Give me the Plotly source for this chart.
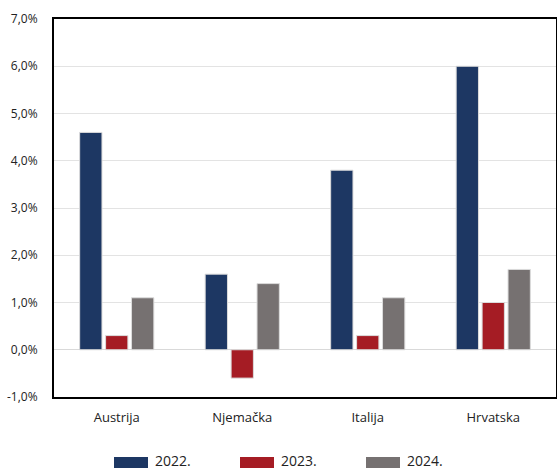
import plotly.graph_objects as go

categories = ["Austrija", "Njemačka", "Italija", "Hrvatska"]
series_names = ["2022.", "2023.", "2024."]
v2022 = [4.6, 1.6, 3.8, 6.0]
v2023 = [0.3, -0.6, 0.3, 1.0]
v2024 = [1.1, 1.4, 1.1, 1.7]
tick_vals = [-1, 0, 1, 2, 3, 4, 5, 6, 7]
tick_text = ["-1,0%", "0,0%", "1,0%", "2,0%", "3,0%", "4,0%", "5,0%", "6,0%", "7,0%"]

colors = ["#1d3763", "#a51c24", "#767171"]
W, H = 557, 470

fig = go.Figure()
for name, vals, c in zip(series_names, [v2022, v2023, v2024], colors):
    fig.add_trace(go.Bar(
        x=categories, y=vals, name=name,
        marker=dict(color=c, line=dict(color="#dcdcdc", width=1)),
    ))

# manual legend (wide rectangles) in pixel positions converted to paper coords
shapes = []
annotations = []
legend_x0 = [114, 240, 366]
ml, mr, mt, mb = 54, 1, 19, 73
pw = W - ml - mr
ph = H - mt - mb
def px(x):
    return (x - ml) / pw
def py(y):
    return (H - mb - y) / ph
for name, c, x0 in zip(series_names, colors, legend_x0):
    shapes.append(dict(type="rect", xref="paper", yref="paper",
                       x0=px(x0), x1=px(x0 + 34), y0=py(468), y1=py(457),
                       fillcolor=c, line=dict(width=0)))
    annotations.append(dict(xref="paper", yref="paper", x=px(x0 + 40), y=py(460),
                            xanchor="left", yanchor="middle", text=name, showarrow=False,
                            borderpad=0,
                            font=dict(size=14, color="#222222")))

fig.update_layout(
    width=W, height=H,
    margin=dict(l=ml, r=mr, t=mt, b=mb, autoexpand=False),
    paper_bgcolor="white", plot_bgcolor="white",
    barmode="group", bargap=0.38, bargroupgap=0.14,
    font=dict(family="Open Sans, sans-serif", size=12, color="#222222"),
    showlegend=False,
    shapes=shapes, annotations=annotations,
    xaxis=dict(showline=True, linecolor="black", linewidth=2, mirror=True,
               ticks="", tickfont=dict(size=13), ticklabelstandoff=7),
    yaxis=dict(range=[-1, 7], tickvals=tick_vals, ticktext=tick_text,
               showgrid=True, gridcolor="#e3e3e3", gridwidth=1,
               zeroline=True, zerolinecolor="#d9d9d9", zerolinewidth=1,
               showline=True, linecolor="black", linewidth=2, mirror=True,
               ticks="", tickfont=dict(size=12), ticklabelstandoff=12),
)

fig.write_html("out.html", config={"displayModeBar": False},
               post_script="document.body.style.margin='0';document.body.style.overflow='hidden';")
